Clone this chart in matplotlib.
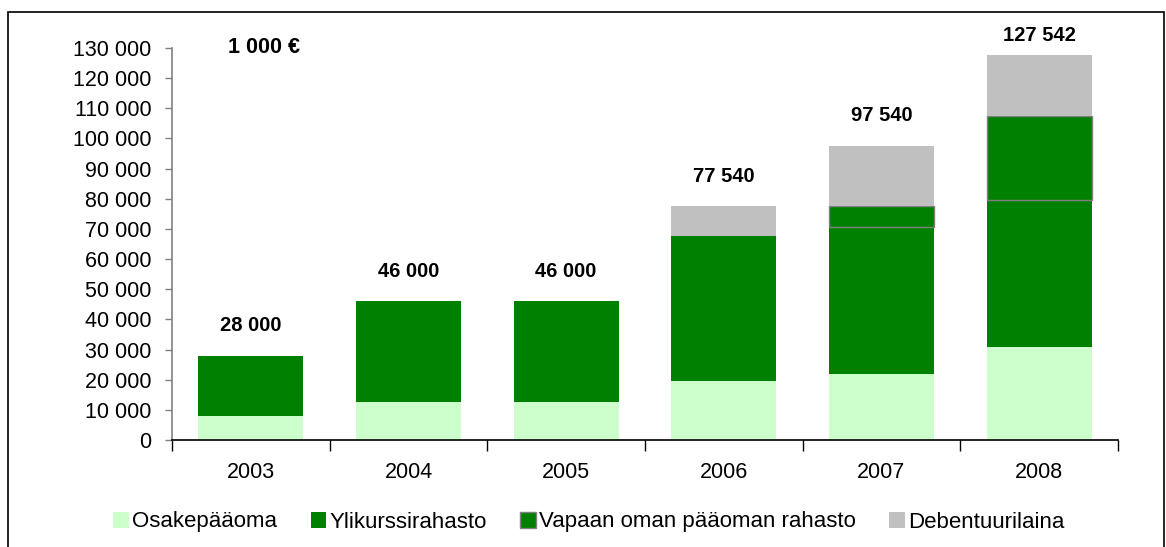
import matplotlib
matplotlib.use("Agg")
import matplotlib.pyplot as plt
from matplotlib.ticker import FuncFormatter, FixedLocator
from matplotlib.patches import Rectangle, Patch

years = ["2003", "2004", "2005", "2006", "2007", "2008"]
osakepaaoma = [8000, 12500, 12500, 19500, 22000, 31002]
ylikurssirahasto = [20000, 33500, 33500, 48040, 48540, 48540]
vapaan_oman = [0, 0, 0, 0, 7000, 28000]
debentuurilaina = [0, 0, 0, 10000, 20000, 20000]
series_names = ["Osakepääoma", "Ylikurssirahasto", "Vapaan oman pääoman rahasto", "Debentuurilaina"]
unit_label = "1 000 €"
y_ticks = list(range(0, 130001, 10000))

plt.rcParams['font.family'] = ['Liberation Sans', 'DejaVu Sans']

W, H = 1166, 547
fig = plt.figure(figsize=(W / 100, H / 100), dpi=100)
ax = fig.add_axes([172 / W, 1 - 440 / H, 946 / W, 392 / H])

x = list(range(len(years)))
bw = 0.667
c_osake = "#CCFFCC"
c_yli = "#008000"
c_deb = "#C0C0C0"

ax.bar(x, osakepaaoma, bw, color=c_osake, linewidth=0)
bottom2 = osakepaaoma
ax.bar(x, ylikurssirahasto, bw, bottom=bottom2, color=c_yli, linewidth=0)
bottom3 = [a + b for a, b in zip(osakepaaoma, ylikurssirahasto)]
lw3 = [1.0 if v > 0 else 0 for v in vapaan_oman]
ax.bar(x, vapaan_oman, bw, bottom=bottom3, color=c_yli, edgecolor="#808080", linewidth=lw3)
bottom4 = [a + b for a, b in zip(bottom3, vapaan_oman)]
ax.bar(x, debentuurilaina, bw, bottom=bottom4, color=c_deb, linewidth=0)

totals = [a + b for a, b in zip(bottom4, debentuurilaina)]

def fmt_num(v):
    return f"{int(round(v)):,}".replace(",", " ")

for xi, t in zip(x, totals):
    ly = min(t + 10000, 134000)
    ax.text(xi, ly, fmt_num(t), ha="center", va="center", fontsize=14.5,
            fontweight="bold", clip_on=False)

ax.set_xlim(-0.5, len(years) - 0.5)
ax.set_ylim(0, 130000)
ax.set_yticks(y_ticks)
ax.yaxis.set_major_formatter(FuncFormatter(lambda v, p: fmt_num(v)))
ax.tick_params(axis="y", direction="out", length=5, width=1, color="#808080",
               labelsize=15.5, pad=10)

ax.xaxis.set_major_locator(FixedLocator([i - 0.5 for i in range(len(years) + 1)]))
ax.xaxis.set_minor_locator(FixedLocator(x))
ax.set_xticklabels([""] * (len(years) + 1))
ax.set_xticklabels(years, minor=True)
ax.tick_params(axis="x", which="major", direction="out", length=8, width=1, color="black")
ax.tick_params(axis="x", which="minor", length=0, labelsize=15.5, pad=16)

for s in ["top", "right"]:
    ax.spines[s].set_visible(False)
ax.spines["left"].set_color("#808080")
ax.spines["left"].set_linewidth(1.2)
ax.spines["bottom"].set_color("black")
ax.spines["bottom"].set_linewidth(1.2)

ax.text(0.059, 1.0, unit_label, transform=ax.transAxes, ha="left", va="center",
        fontsize=15.5, fontweight="bold")

handles = [Patch(facecolor=c_osake, edgecolor="none"),
           Patch(facecolor=c_yli, edgecolor="none"),
           Patch(facecolor=c_yli, edgecolor="#808080", linewidth=1),
           Patch(facecolor=c_deb, edgecolor="none")]
fig.legend(handles, series_names, loc="center", bbox_to_anchor=(589 / W, 1 - 522 / H),
           ncol=4, frameon=False, fontsize=16, handlelength=0.7, handleheight=0.7,
           handletextpad=0.15, columnspacing=1.5)

fig.patches.append(Rectangle((8 / W, -0.02), (1164 - 8) / W, 1.02 - 12 / H,
                             transform=fig.transFigure, fill=False,
                             edgecolor="black", linewidth=1.2))

fig.savefig("out.png", dpi=100)
